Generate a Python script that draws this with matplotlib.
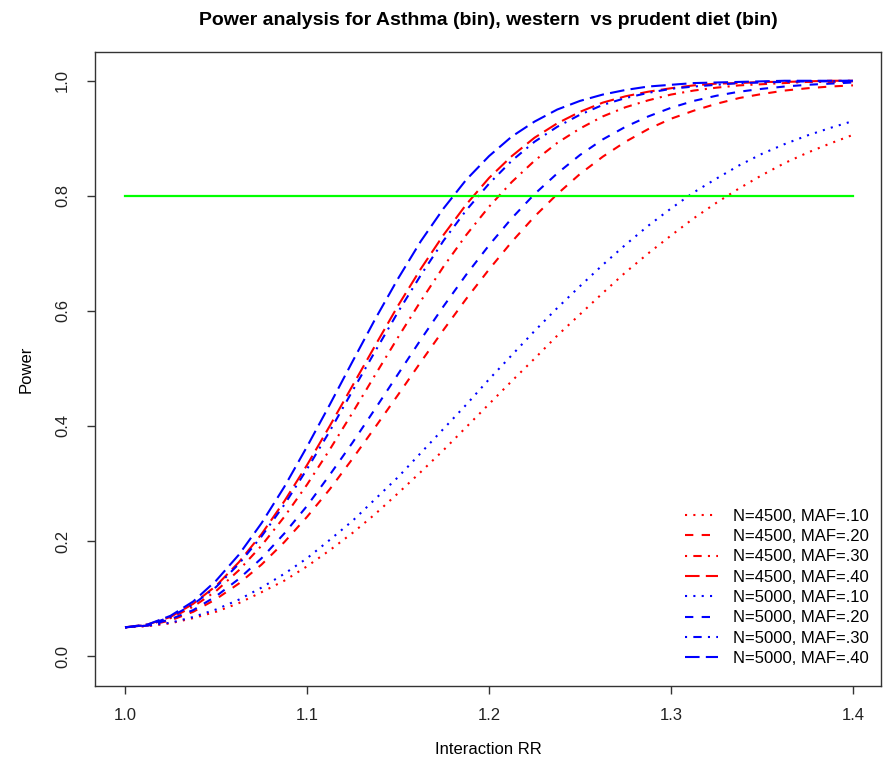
import matplotlib
matplotlib.use("Agg")
import matplotlib.pyplot as plt

plt.rcParams['font.family'] = ['Liberation Sans', 'DejaVu Sans']

# interaction relative risk values (step 0.0125)
rr = [1.0, 1.0125, 1.025, 1.0375, 1.05, 1.0625, 1.075, 1.0875, 1.1,
      1.1125, 1.125, 1.1375, 1.15, 1.1625, 1.175, 1.1875, 1.2,
      1.2125, 1.225, 1.2375, 1.25, 1.2625, 1.275, 1.2875, 1.3,
      1.3125, 1.325, 1.3375, 1.35, 1.3625, 1.375, 1.3875, 1.4]

# power
n4500_maf10 = [0.050, 0.052, 0.057, 0.066, 0.077, 0.092, 0.111, 0.131, 0.156,
               0.184, 0.214, 0.247, 0.283, 0.320, 0.358, 0.398, 0.438,
               0.478, 0.517, 0.557, 0.594, 0.631, 0.667, 0.700, 0.731,
               0.761, 0.788, 0.813, 0.836, 0.857, 0.875, 0.891, 0.906]
n4500_maf20 = [0.050, 0.053, 0.062, 0.077, 0.099, 0.126, 0.159, 0.198, 0.242,
               0.290, 0.343, 0.398, 0.454, 0.511, 0.567, 0.621, 0.672,
               0.720, 0.764, 0.803, 0.838, 0.868, 0.894, 0.916, 0.934,
               0.948, 0.960, 0.970, 0.977, 0.983, 0.987, 0.990, 0.992]
n4500_maf30 = [0.050, 0.054, 0.066, 0.086, 0.113, 0.149, 0.192, 0.242, 0.298,
               0.359, 0.423, 0.489, 0.554, 0.617, 0.677, 0.732, 0.781,
               0.824, 0.861, 0.892, 0.917, 0.938, 0.954, 0.966, 0.976,
               0.983, 0.988, 0.992, 0.994, 0.996, 0.998, 0.998, 0.999]
n4500_maf40 = [0.050, 0.055, 0.068, 0.091, 0.122, 0.163, 0.212, 0.269, 0.332,
               0.400, 0.470, 0.540, 0.609, 0.673, 0.732, 0.785, 0.831,
               0.869, 0.901, 0.926, 0.946, 0.962, 0.973, 0.981, 0.987,
               0.992, 0.995, 0.996, 0.998, 0.998, 0.999, 1.000, 1.000]
n5000_maf10 = [0.050, 0.053, 0.058, 0.068, 0.081, 0.098, 0.119, 0.143, 0.170,
               0.202, 0.235, 0.273, 0.311, 0.353, 0.395, 0.437, 0.481,
               0.523, 0.565, 0.605, 0.643, 0.680, 0.715, 0.748, 0.778,
               0.806, 0.830, 0.853, 0.873, 0.890, 0.905, 0.918, 0.930]
n5000_maf20 = [0.050, 0.053, 0.064, 0.080, 0.104, 0.134, 0.170, 0.213, 0.261,
               0.315, 0.371, 0.430, 0.490, 0.550, 0.608, 0.663, 0.714,
               0.761, 0.803, 0.839, 0.871, 0.898, 0.920, 0.938, 0.953,
               0.965, 0.974, 0.981, 0.986, 0.990, 0.993, 0.995, 0.997]
n5000_maf30 = [0.050, 0.054, 0.068, 0.090, 0.120, 0.160, 0.208, 0.263, 0.325,
               0.391, 0.461, 0.530, 0.598, 0.662, 0.722, 0.775, 0.821,
               0.861, 0.894, 0.920, 0.941, 0.958, 0.970, 0.979, 0.986,
               0.990, 0.993, 0.996, 0.997, 0.998, 0.999, 0.999, 1.000]
n5000_maf40 = [0.050, 0.055, 0.070, 0.095, 0.131, 0.176, 0.231, 0.294, 0.364,
               0.437, 0.512, 0.586, 0.656, 0.721, 0.778, 0.828, 0.869,
               0.903, 0.929, 0.950, 0.965, 0.976, 0.984, 0.990, 0.993,
               0.996, 0.997, 0.998, 0.999, 1.000, 1.000, 1.000, 1.000]

labels = ['N=4500, MAF=.10', 'N=4500, MAF=.20', 'N=4500, MAF=.30', 'N=4500, MAF=.40',
          'N=5000, MAF=.10', 'N=5000, MAF=.20', 'N=5000, MAF=.30', 'N=5000, MAF=.40']
target_power = 0.8

series = [n4500_maf10, n4500_maf20, n4500_maf30, n4500_maf40,
          n5000_maf10, n5000_maf20, n5000_maf30, n5000_maf40]
colors = ['#ff0000'] * 4 + ['#0000ff'] * 4
# R style line types: dotted, dashed, dotdash, longdash
dashes = [(1, 3), (4, 4), (1, 3, 4, 3), (7, 3)] * 2

fig = plt.figure(figsize=(8.83, 7.61), dpi=100)
ax = fig.add_axes([95 / 883, 1 - 686 / 761, 786 / 883, 634 / 761])

for y, c, d, lab in zip(series, colors, dashes, labels):
    ax.plot(rr, y, color=c, lw=1.5, dashes=d, label=lab)

ax.plot([rr[0], rr[-1]], [target_power, target_power], color='#00ff00', lw=1.6)

ax.set_xlim(0.9835, 1.4154)
ax.set_ylim(-0.052, 1.05)
ax.set_xticks([1.0, 1.1, 1.2, 1.3, 1.4])
ax.set_yticks([0.0, 0.2, 0.4, 0.6, 0.8, 1.0])
ax.set_xticklabels(['1.0', '1.1', '1.2', '1.3', '1.4'])
ax.set_yticklabels(['0.0', '0.2', '0.4', '0.6', '0.8', '1.0'], rotation=90, va='center')
ax.tick_params(axis='both', labelsize=12, length=6, width=1, color='#333333', labelcolor='#222222')
ax.tick_params(axis='x', pad=10)
ax.tick_params(axis='y', pad=12)
for s in ax.spines.values():
    s.set_color('#333333')
    s.set_linewidth(1)

ax.set_title('Power analysis for Asthma (bin), western  vs prudent diet (bin)',
             fontsize=14, fontweight='bold', pad=19.5)
ax.set_xlabel('Interaction RR', fontsize=12, labelpad=13.5)
ax.set_ylabel('Power', fontsize=12, labelpad=15.5)

ax.legend(loc='lower right', bbox_to_anchor=(869 / 883, 1 - 666 / 761),
          bbox_transform=fig.transFigure, frameon=False, fontsize=12,
          handlelength=2.0, handletextpad=0.9, labelspacing=0.32,
          borderpad=0, borderaxespad=0)

fig.savefig('out.png', dpi=100)
